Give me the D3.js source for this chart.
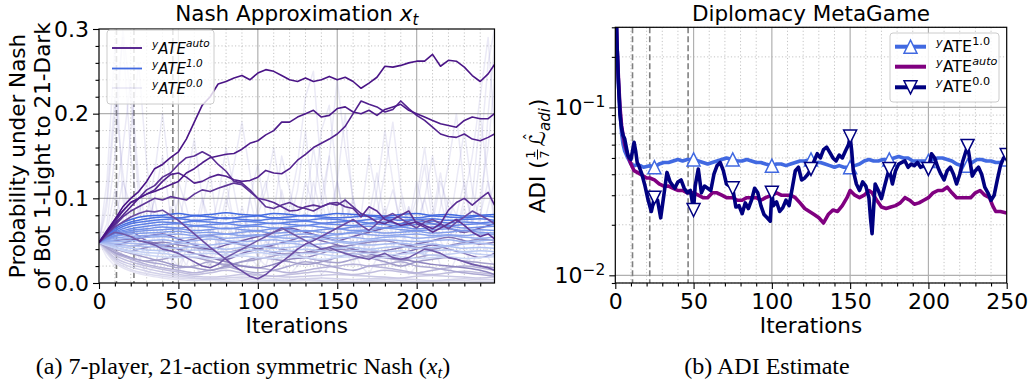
<!DOCTYPE html>
<html>
<head>
<meta charset="utf-8">
<script src="https://cdn.jsdelivr.net/npm/d3@7/dist/d3.min.js"></script>
<style>
html,body{margin:0;padding:0;background:#fff;}
svg text{font-family:"DejaVu Sans",sans-serif;}
svg text.serif{font-family:"Liberation Serif","Times New Roman",serif;}
</style>
</head>
<body>
<svg id="chart" width="1029" height="381"></svg>
<script>
// ================= DATA =================
const nashIterFine = [0,5,10,15,20,25,30,35,40,45,50,55,60,65,70,75,80,85,90,95,100,105,110,115,120,125,130,135,140,145,150,155,160,165,170,175,180,185,190,195,200,205,210,215,220,225,230,235,240,245,249];
const nashIterCoarse = [0,10,20,30,40,50,60,70,80,90,100,110,120,130,140,150,160,170,180,190,200,210,220,230,240,249];

const autoA = [.048,.06,.075,.09,.1,.108,.12,.135,.14,.148,.155,.17,.19,.21,.22,.235,.238,.242,.245,.24,.248,.252,.25,.245,.24,.238,.242,.238,.24,.244,.24,.243,.238,.23,.236,.243,.256,.255,.257,.26,.262,.262,.27,.256,.263,.262,.255,.245,.238,.247,.258];
const autoB = [.048,.062,.075,.085,.095,.1,.105,.108,.112,.116,.12,.13,.135,.142,.148,.15,.152,.153,.158,.165,.168,.175,.18,.19,.19,.196,.2,.204,.196,.198,.206,.208,.202,.2,.204,.198,.205,.208,.211,.204,.2,.196,.192,.188,.186,.184,.192,.196,.194,.194,.2];
const autoC = [.048,.06,.07,.08,.09,.1,.105,.11,.12,.128,.13,.125,.118,.12,.125,.128,.126,.122,.12,.121,.125,.133,.13,.129,.135,.145,.152,.16,.165,.17,.176,.185,.2,.215,.211,.208,.202,.205,.215,.206,.198,.192,.184,.176,.173,.172,.176,.17,.168,.172,.176];
const autoD = [.048,.06,.072,.085,.095,.1,.11,.115,.125,.13,.14,.148,.15,.155,.15,.14,.132,.12,.118,.11,.1,.098,.095,.09,.085,.086,.09,.092,.09,.094,.095,.09,.088,.078,.09,.085,.075,.072,.068,.07,.072,.068,.064,.07,.086,.095,.1,.092,.1,.107,.092];
const autoE = [.048,.058,.068,.078,.085,.09,.095,.1,.098,.102,.1,.098,.105,.11,.108,.112,.115,.118,.116,.108,.1,.09,.088,.092,.095,.09,.088,.085,.09,.094,.092,.098,.09,.082,.078,.072,.07,.075,.08,.085,.07,.066,.06,.065,.07,.075,.068,.06,.055,.058,.052];
const autoF = [.048,.058,.066,.072,.078,.082,.085,.084,.086,.08,.074,.066,.058,.05,.042,.035,.028,.02,.014,.008,.005,.01,.018,.025,.032,.04,.046,.05,.055,.06,.065,.07,.075,.068,.062,.07,.078,.082,.076,.07,.065,.072,.075,.07,.064,.072,.078,.085,.08,.075,.07];
const autoG = [.048,.055,.06,.058,.055,.05,.048,.045,.04,.038,.035,.03,.025,.02,.018,.022,.03,.035,.04,.045,.05,.055,.06,.065,.06,.055,.05,.045,.04,.042,.038,.035,.032,.03,.028,.032,.035,.03,.028,.03,.035,.04,.038,.035,.03,.028,.025,.022,.02,.018,.015];

const autoH = [.048,.055,.06,.05,.045,.04,.035,.03,.028,.035,.04,.045,.05,.055,.05,.045,.04,.035,.03,.035,.04,.045,.04,.035,.03,.035];
const autoI = [.048,.045,.05,.055,.058,.052,.045,.04,.045,.05,.055,.06,.065,.06,.055,.05,.055,.06,.065,.07,.075,.07,.065,.06,.065,.07];
const autoJ = [.048,.04,.035,.03,.025,.02,.018,.015,.02,.025,.03,.028,.025,.022,.025,.03,.035,.03,.025,.02,.025,.028,.03,.025,.02,.018];
const autoK = [.048,.042,.038,.042,.045,.04,.035,.03,.025,.02,.018,.022,.028,.03,.035,.04,.038,.035,.03,.028,.025,.022,.02,.018,.015,.01];
const autoL = [.048,.038,.03,.025,.022,.018,.02,.025,.02,.015,.012,.015,.02,.025,.022,.018,.015,.02,.022,.025,.02,.018,.015,.012,.01,.008];
const autoM = [.048,.035,.028,.022,.018,.015,.012,.015,.018,.02,.018,.015,.012,.015,.018,.02,.022,.02,.018,.015,.012,.015,.018,.02,.018,.015];
const autoN = [.048,.033,.025,.02,.016,.013,.01,.012,.015,.012,.01,.008,.01,.012,.014,.012,.01,.012,.015,.013,.011,.01,.012,.014,.012,.01];
const autoO = [.048,.03,.022,.017,.013,.01,.008,.007,.008,.01,.009,.008,.007,.008,.009,.01,.009,.008,.007,.006,.008,.009,.008,.007,.006,.007];
const autoP = [.048,.028,.019,.014,.01,.008,.006,.005,.006,.007,.006,.005,.004,.005,.006,.005,.004,.005,.006,.005,.004,.003,.004,.005,.004,.004];
const autoQ = [.048,.026,.016,.011,.008,.006,.005,.004,.004,.005,.004,.003,.003,.004,.003,.003,.002,.003,.004,.003,.002,.002,.003,.003,.002,.002];
const autoR = [.048,.024,.014,.009,.006,.004,.003,.003,.002,.003,.002,.002,.002,.003,.002,.002,.001,.002,.002,.001,.001,.002,.001,.001,.001,.001];
const autoS = [.048,.046,.044,.046,.048,.045,.042,.038,.036,.04,.044,.042,.038,.035,.038,.042,.045,.048,.05,.046,.042,.04,.044,.048,.052,.05];
const autoT = [.048,.05,.052,.048,.044,.048,.052,.056,.05,.045,.04,.036,.033,.036,.04,.044,.04,.036,.038,.042,.046,.05,.054,.05,.046,.048];
const autoU = [.048,.036,.03,.026,.028,.032,.03,.026,.022,.025,.028,.032,.035,.03,.026,.024,.028,.032,.03,.027,.03,.033,.03,.026,.024,.022];

const ate10_1 = [.048,.066,.075,.079,.08,.082,.08,.081,.083,.081,.08,.082,.081,.079,.08,.082,.081,.08,.079,.081,.082,.08,.081,.079,.08,.081];
const ate10_2 = [.048,.064,.072,.076,.078,.077,.079,.078,.076,.078,.079,.077,.078,.08,.078,.077,.078,.079,.077,.078,.077,.079,.078,.077,.079,.078];
const ate10_3 = [.048,.062,.07,.073,.075,.076,.074,.075,.077,.075,.074,.076,.075,.074,.076,.075,.073,.075,.076,.074,.075,.076,.074,.075,.076,.074];
const ate10_4 = [.048,.06,.067,.07,.072,.071,.073,.072,.071,.073,.072,.07,.072,.073,.071,.072,.073,.071,.072,.07,.072,.073,.071,.072,.071,.073];
const ate10_5 = [.048,.059,.064,.067,.069,.07,.068,.069,.07,.068,.069,.071,.069,.068,.07,.069,.068,.07,.069,.067,.069,.07,.068,.069,.07,.069];
const ate10_6 = [.048,.058,.062,.064,.066,.065,.067,.066,.064,.066,.067,.065,.066,.068,.066,.064,.066,.067,.065,.066,.064,.066,.067,.065,.066,.067];
const ate10_7 = [.048,.056,.06,.062,.063,.064,.062,.063,.065,.063,.062,.064,.063,.061,.063,.064,.062,.063,.065,.063,.062,.063,.064,.062,.063,.062];
const ate10_8 = [.048,.055,.058,.059,.06,.061,.059,.06,.058,.06,.061,.059,.06,.062,.06,.058,.06,.061,.059,.06,.061,.059,.06,.062,.06,.059];
const ate10_9 = [.048,.053,.055,.056,.057,.058,.056,.057,.058,.056,.057,.055,.057,.058,.056,.057,.059,.057,.056,.057,.058,.056,.057,.056,.058,.057];
const ate10_10 = [.048,.051,.053,.054,.055,.053,.054,.055,.053,.054,.056,.054,.053,.054,.055,.053,.054,.052,.054,.055,.053,.054,.056,.054,.053,.054];
const ate10_11 = [.048,.049,.05,.05,.051,.049,.05,.052,.05,.049,.05,.051,.049,.05,.052,.05,.048,.05,.051,.05,.049,.05,.051,.049,.05,.051];
const ate10_12 = [.048,.047,.047,.046,.045,.047,.046,.045,.047,.046,.044,.046,.047,.045,.046,.048,.046,.045,.046,.047,.045,.046,.044,.046,.047,.045];
const ate10_13 = [.048,.045,.044,.043,.042,.041,.043,.042,.04,.042,.043,.041,.042,.044,.042,.041,.042,.04,.042,.043,.041,.042,.043,.041,.042,.041];
const ate10_14 = [.048,.044,.041,.039,.038,.037,.039,.038,.036,.038,.039,.037,.038,.04,.038,.036,.038,.039,.037,.038,.036,.038,.039,.037,.038,.037];
const ate10_15 = [.048,.042,.038,.036,.035,.033,.034,.035,.033,.034,.036,.034,.033,.035,.034,.032,.034,.035,.033,.034,.035,.033,.034,.036,.034,.033];
const ate10_16 = [.048,.041,.036,.033,.031,.03,.031,.029,.03,.032,.03,.029,.031,.03,.028,.03,.031,.029,.03,.031,.029,.03,.031,.029,.03,.031];

const ate00_1 = [.048,.09,.2,.29,.15,.08,.12,.05,.03,.06,.1,.07,.04,.09,.13,.06,.03,.08,.05,.1,.14,.08,.05,.11,.07,.04,.09,.16,.1,.06,.12,.2,.09,.05,.08,.13,.07,.04,.1,.06,.09,.14,.07,.05,.1,.08,.12,.07,.15,.26,.3];
const ate00_2 = [.048,.12,.28,.1,.05,.02,.06,.1,.05,.03,.01,.04,.08,.05,.02,.06,.1,.07,.03,.05,.09,.12,.06,.03,.07,.11,.18,.09,.04,.02,.06,.1,.05,.08,.15,.1,.05,.02,.04,.09,.06,.03,.08,.13,.07,.04,.06,.1,.2,.12,.08];
const ate00_3 = [.048,.07,.15,.3,.22,.1,.04,.02,.05,.08,.12,.09,.05,.03,.06,.1,.16,.11,.06,.04,.08,.05,.02,.04,.09,.14,.22,.25,.13,.08,.05,.1,.07,.03,.06,.11,.18,.12,.06,.09,.05,.03,.07,.12,.09,.06,.1,.15,.22,.29,.18];
const ate00_4 = [.048,.05,.09,.16,.24,.12,.06,.1,.15,.08,.04,.02,.05,.03,.07,.05,.02,.04,.08,.06,.03,.02,.05,.08,.04,.02,.03,.07,.1,.15,.08,.04,.02,.05,.03,.06,.09,.05,.02,.04,.07,.1,.06,.03,.05,.08,.04,.02,.05,.09,.12];
const ate00_5 = [.048,.03,.02,.04,.06,.03,.01,.02,.05,.03,.02,.04,.02,.01,.03,.05,.03,.02,.01,.03,.02,.04,.06,.03,.01,.02,.04,.03,.01,.02,.05,.08,.04,.02,.01,.03,.02,.04,.03,.01,.02,.03,.05,.02,.01,.03,.02,.04,.06,.03,.02];
const ate00_6 = [.048,.06,.11,.07,.18,.26,.14,.07,.04,.09,.06,.12,.17,.1,.05,.08,.12,.07,.04,.1,.06,.03,.08,.15,.11,.07,.12,.09,.18,.21,.12,.07,.1,.06,.04,.08,.13,.19,.11,.07,.12,.08,.05,.09,.14,.2,.11,.07,.1,.16,.24];
const ate00_7 = [.048,.04,.07,.12,.09,.05,.03,.06,.04,.02,.05,.08,.06,.03,.02,.04,.07,.05,.09,.06,.03,.05,.04,.07,.1,.06,.04,.02,.05,.08,.12,.07,.04,.06,.03,.05,.08,.06,.04,.07,.1,.16,.09,.05,.03,.06,.09,.05,.08,.12,.07];
const ate00_8 = [.048,.1,.22,.13,.06,.04,.08,.13,.2,.12,.07,.04,.06,.1,.07,.04,.09,.14,.19,.13,.08,.11,.16,.1,.06,.04,.07,.12,.08,.15,.24,.16,.1,.06,.09,.05,.08,.11,.07,.04,.06,.1,.15,.1,.06,.12,.18,.11,.07,.2,.28];

const nashXTicks = [0,50,100,150,200];
const nashYTicks = [0,0.1,0.2,0.3];
const nashDashed = [11,22,46.5];

const adi10X = [0,1,2,3,4,5,6,8,10,12,14,16,18,20,22,25,28,31,34,37,40,43,46,50,53,56,59,62,65,68,71,75,78,81,84,87,90,93,96,100,103,106,109,112,115,118,121,125,128,131,134,137,140,143,146,150,153,156,159,162,165,168,171,175,178,181,184,187,190,193,196,200,203,206,209,212,215,218,221,225,228,231,234,237,240,243,246,250];
const adi10Y = [.6,.25,.14,.095,.07,.06,.055,.05,.046,.045,.0455,.045,.044,.0445,.045,.044,.046,.047,.047,.048,.049,.048,.049,.049,.048,.047,.046,.047,.048,.049,.05,.049,.048,.048,.049,.048,.047,.047,.046,.045,.046,.046,.045,.046,.047,.048,.048,.049,.047,.047,.046,.045,.044,.045,.044,.044,.045,.046,.048,.049,.048,.048,.049,.049,.05,.051,.05,.05,.048,.048,.048,.048,.049,.05,.05,.049,.048,.046,.045,.045,.047,.049,.049,.048,.048,.047,.047,.049];
const adiAutoX = [0,1,2,3,4,5,6,8,10,12,14,16,18,20,22,25,28,31,34,37,40,43,46,50,53,56,59,62,65,68,71,75,78,81,84,87,90,93,96,100,103,106,109,112,115,118,121,124,127,130,133,136,139,142,145,148,150,153,156,159,162,164,167,170,173,176,179,182,185,188,191,194,197,200,203,206,209,212,215,218,221,224,227,230,233,236,239,241,243,246,250];
const adiAutoY = [.6,.25,.15,.1,.078,.068,.06,.052,.046,.042,.041,.04,.039,.038,.038,.037,.035,.034,.034,.033,.032,.032,.031,.031,.03,.029,.029,.031,.031,.03,.029,.029,.028,.028,.029,.029,.029,.028,.029,.03,.031,.03,.03,.03,.029,.027,.025,.024,.023,.022,.0205,.023,.0245,.024,.026,.029,.032,.03,.029,.03,.032,.031,.028,.0255,.025,.0255,.026,.027,.029,.028,.0265,.027,.028,.029,.031,.032,.032,.0335,.031,.029,.029,.029,.029,.031,.032,.03,.029,.026,.024,.024,.0235];
const adi00X = [0,1,2,3,4,5,6,7,8,9,10,11,12,13,14,15,17,19,21,23,25,27,29,31,33,35,38,40,42,44,46,48,50,51,53,55,57,59,61,63,65,67,69,71,73,75,77,79,81,83,85,87,89,91,93,95,97,99,100,101,103,105,107,109,111,113,115,117,119,121,123,125,127,129,131,133,135,137,139,141,143,145,147,149,150,151,152,154,156,158,160,162,163,164,165,166,168,170,172,174,175,177,179,181,183,185,187,189,191,193,195,197,199,200,202,204,206,208,210,212,214,216,218,220,222,224,225,226,228,230,232,234,236,238,240,242,244,246,248,250];
const adi00Y = [.6,.25,.14,.09,.075,.068,.065,.058,.052,.05,.049,.055,.062,.055,.047,.045,.04,.034,.028,.024,.029,.028,.022,.03,.041,.036,.033,.036,.037,.033,.031,.032,.0245,.034,.043,.031,.034,.033,.032,.04,.045,.047,.042,.035,.034,.033,.0255,.026,.0233,.027,.025,.028,.033,.031,.026,.023,.022,.021,.031,.026,.0274,.024,.0253,.028,.026,.033,.042,.044,.037,.038,.04,.043,.048,.053,.05,.056,.058,.054,.05,.048,.052,.05,.055,.06,.067,.055,.042,.035,.032,.036,.034,.029,.022,.0177,.025,.035,.032,.0286,.034,.04,.043,.035,.042,.046,.047,.048,.044,.046,.045,.047,.044,.045,.044,.043,.053,.05,.044,.04,.037,.042,.044,.04,.035,.04,.048,.055,.059,.052,.039,.042,.044,.04,.0335,.031,.028,.03,.037,.045,.05,.052];

const adiXTicks = [0,50,100,150,200,250];
const adiYTicks = [0.01,0.1];
const adiYTickExp = ["\u22122","\u22121"];
const adiDashed = [11,22,46.5];
const adiMarkEvery = 25;

// ================= DRAWING =================
const svg = d3.select("#chart");
svg.append("rect").attr("width",1029).attr("height",381).attr("fill","#fff");
const defs = svg.append("defs");

const TICKFS = 22, LABFS = 21.5;
const MAJ = "#b0b0b0", MIN = "#c4c4c4";

function panelBase(P, x, y, xMaj, xMin, yMaj, yMin, id){
  defs.append("clipPath").attr("id",id).append("rect")
    .attr("x",P.x0).attr("y",P.y0).attr("width",P.x1-P.x0).attr("height",P.y1-P.y0);
  const g = svg.append("g");
  g.selectAll(".mgx").data(xMin).join("line")
    .attr("x1",d=>x(d)).attr("x2",d=>x(d)).attr("y1",P.y0).attr("y2",P.y1)
    .attr("stroke",MIN).attr("stroke-width",1).attr("stroke-dasharray","1.2,2.2");
  g.selectAll(".mgy").data(yMin).join("line")
    .attr("y1",d=>y(d)).attr("y2",d=>y(d)).attr("x1",P.x0).attr("x2",P.x1)
    .attr("stroke",MIN).attr("stroke-width",1).attr("stroke-dasharray","1.2,2.2");
  g.selectAll(".Mgx").data(xMaj).join("line")
    .attr("x1",d=>x(d)).attr("x2",d=>x(d)).attr("y1",P.y0).attr("y2",P.y1)
    .attr("stroke",MAJ).attr("stroke-width",1.2);
  g.selectAll(".Mgy").data(yMaj).join("line")
    .attr("y1",d=>y(d)).attr("y2",d=>y(d)).attr("x1",P.x0).attr("x2",P.x1)
    .attr("stroke",MAJ).attr("stroke-width",1.2);
  return g;
}

function dashedLines(P, x, vals, id){
  svg.append("g").attr("clip-path",`url(#${id})`).selectAll("line").data(vals).join("line")
    .attr("x1",d=>x(d)).attr("x2",d=>x(d)).attr("y1",P.y0).attr("y2",P.y1)
    .attr("stroke","#808080").attr("stroke-width",1.6).attr("stroke-dasharray","6,3");
}

function axes(P, x, y, xMaj, xMin, yMaj, yMin, xFmt, yFmt){
  const gx = svg.append("g").attr("transform",`translate(0,${P.y1})`)
    .call(d3.axisBottom(x).tickValues(xMaj).tickSize(6).tickPadding(4).tickFormat(xFmt));
  const gx2 = svg.append("g").attr("transform",`translate(0,${P.y1})`)
    .call(d3.axisBottom(x).tickValues(xMin).tickSize(3.5).tickFormat(""));
  const gy = svg.append("g").attr("transform",`translate(${P.x0},0)`)
    .call(d3.axisLeft(y).tickValues(yMaj).tickSize(6).tickPadding(4).tickFormat(yFmt));
  const gy2 = svg.append("g").attr("transform",`translate(${P.x0},0)`)
    .call(d3.axisLeft(y).tickValues(yMin).tickSize(3.5).tickFormat(""));
  [gx,gx2,gy,gy2].forEach(g=>{
    g.attr("font-size",TICKFS);
    g.select(".domain").remove();
    g.selectAll(".tick line").attr("stroke","#000").attr("stroke-width",1.1);
    g.selectAll(".tick text").attr("fill","#000");
  });
  svg.append("rect").attr("x",P.x0).attr("y",P.y0).attr("width",P.x1-P.x0).attr("height",P.y1-P.y0)
    .attr("fill","none").attr("stroke","#000").attr("stroke-width",1.2);
  return gy;
}

// ---------- LEFT PANEL ----------
const L = {x0:99, x1:494.5, y0:29, y1:283};
const xL = d3.scaleLinear().domain([0,249]).range([L.x0,L.x1]);
const yL = d3.scaleLinear().domain([0,0.3]).range([L.y1,L.y0]);
const xMinL = xL.ticks(25).filter(d=>d%50!==0);
const yMinL = yL.ticks(15).filter(d=>Math.abs(d*10-Math.round(d*10))>1e-6);
panelBase(L, xL, yL, [50,100,150,200], xMinL, [0.1,0.2], yMinL, "clipL");
dashedLines(L, xL, nashDashed, "clipL");

const plotL = svg.append("g").attr("clip-path","url(#clipL)");
function traceL(xs, ys, color, width, opacity, curve){
  const ln = d3.line().x(d=>xL(d[0])).y(d=>yL(d[1])).curve(curve||d3.curveLinear);
  plotL.append("path").attr("d", ln(d3.zip(xs,ys)))
    .attr("fill","none").attr("stroke",color).attr("stroke-width",width)
    .attr("stroke-opacity",opacity).attr("stroke-linejoin","round");
}
[ate00_1,ate00_2,ate00_3,ate00_4,ate00_5,ate00_6,ate00_7,ate00_8].forEach(s=>
  traceL(nashIterFine, s, "#7b70c0", 1.5, 0.15));
const autoCoarse = [
  [autoR,"#e4e3f2"],[autoQ,"#dcdbee"],[autoP,"#d3d2e9"],[autoO,"#cac8e4"],[autoN,"#c1bede"],
  [autoM,"#b7b3d9"],[autoL,"#aca8d2"],[autoU,"#a6a1cd"],[autoJ,"#a09bc9"],[autoS,"#9088c0"],
  [autoK,"#8d84be"],[autoH,"#7e6fb4"],[autoT,"#7f72b5"],[autoI,"#6f5aa9"]];
autoCoarse.forEach(([s,c])=>traceL(nashIterCoarse, s, c, 1.5, 1, d3.curveMonotoneX));
const ate10 = [ate10_1,ate10_2,ate10_3,ate10_4,ate10_5,ate10_6,ate10_7,ate10_8,ate10_9,ate10_10,ate10_11,ate10_12,ate10_13,ate10_14,ate10_15,ate10_16];
const blueCol = d3.interpolateRgb("#4169e1","#cdd8f6");
ate10.slice().reverse().forEach((s,i)=>{
  const k = ate10.length-1-i;
  traceL(nashIterCoarse, s, blueCol(k/(ate10.length-1)), 1.5, 1, d3.curveMonotoneX);
});
const autoFine = [[autoG,"#7059a9"],[autoF,"#6a4aa3"],[autoE,"#5e3597"],[autoD,"#5a2e94"],[autoC,"#52218e"],[autoB,"#4d1a8a"],[autoA,"#4a1486"]];
autoFine.forEach(([s,c])=>traceL(nashIterFine, s, c, 1.6, 1));

axes(L, xL, yL, nashXTicks, xMinL, nashYTicks, yMinL, d3.format("d"), d3.format(".1f"));

const tL = svg.append("text").attr("x",(L.x0+L.x1)/2).attr("y",21).attr("text-anchor","middle").attr("font-size",LABFS);
tL.append("tspan").text("Nash Approximation ");
tL.append("tspan").attr("font-style","italic").text("x");
tL.append("tspan").attr("font-style","italic").attr("font-size",15).attr("dy",4).text("t");
svg.append("text").attr("x",(L.x0+L.x1)/2).attr("y",333).attr("text-anchor","middle").attr("font-size",LABFS).text("Iterations");
svg.append("text").attr("transform",`translate(25,156) rotate(-90)`).attr("text-anchor","middle").attr("font-size",LABFS).text("Probability under Nash");
svg.append("text").attr("transform",`translate(50,156) rotate(-90)`).attr("text-anchor","middle").attr("font-size",LABFS).text("of Bot 1-Light to 21-Dark");

function legendText(x, y, sup, mainItalic, supItalic, fs){
  const t = svg.append("text").attr("x",x).attr("y",y).attr("font-size",fs);
  t.append("tspan").attr("font-size",fs*0.7).attr("font-style","italic").attr("dy",-6).text("y");
  t.append("tspan").attr("font-style",mainItalic?"italic":"normal").attr("dy",6).text("ATE");
  t.append("tspan").attr("font-size",fs*0.7).attr("font-style",supItalic?"italic":"normal").attr("dy",-7).text(sup);
}
svg.append("rect").attr("x",107).attr("y",30).attr("width",107).attr("height",74).attr("rx",3)
  .attr("fill","#fff").attr("fill-opacity",0.8).attr("stroke","#cccccc").attr("stroke-width",1);
const legL = [["auto","#4a1486",1],["1.0","#4169e1",1],["0.0","#7b70c0",0.15]];
legL.forEach(([s,c,o],i)=>{
  const yy = [48,68.5,88][i];
  svg.append("line").attr("x1",112).attr("x2",142).attr("y1",yy).attr("y2",yy)
    .attr("stroke",c).attr("stroke-opacity",o).attr("stroke-width",1.8);
  legendText(152, yy+5.5, s, true, true, 15);
});

// ---------- RIGHT PANEL ----------
const R = {x0:615.3, x1:1006.7, y0:27.3, y1:283};
const xR = d3.scaleLinear().domain([0,250]).range([R.x0,R.x1]);
const yR = d3.scaleLog().domain([0.009,0.3]).range([R.y1,R.y0]);
const xMinR = xR.ticks(25).filter(d=>d%50!==0);
const yMinR = yR.ticks().filter(d=>!adiYTicks.some(t=>Math.abs(t-d)<1e-9));
panelBase(R, xR, yR, [50,100,150,200], xMinR, adiYTicks, yMinR, "clipR");
dashedLines(R, xR, adiDashed, "clipR");

const plotR = svg.append("g").attr("clip-path","url(#clipR)");
function triPath(up, s){
  return up ? `M0,${-s}L${s},${s}L${-s},${s}Z` : `M0,${s}L${s},${-s}L${-s},${-s}Z`;
}
function traceR(xs, ys, color, marker){
  const pts = d3.zip(xs,ys);
  const ln = d3.line().x(d=>xR(d[0])).y(d=>yR(d[1]));
  plotR.append("path").attr("d",ln(pts)).attr("fill","none").attr("stroke",color)
    .attr("stroke-width",3.6).attr("stroke-linejoin","round");
  if(marker!==null){
    plotR.selectAll(null).data(pts.filter(d=>d[0]%adiMarkEvery===0)).join("path")
      .attr("transform",d=>`translate(${xR(d[0])},${yR(d[1])})`)
      .attr("d",triPath(marker,6.5)).attr("fill","#fff").attr("stroke",color).attr("stroke-width",1.5);
  }
}
traceR(adi10X, adi10Y, "#4169e1", true);
traceR(adiAutoX, adiAutoY, "#800080", null);
traceR(adi00X, adi00Y, "#000080", false);

axes(R, xR, yR, adiXTicks, xMinR, adiYTicks, yMinR, d3.format("d"), ()=>"");
adiYTicks.forEach((v,i)=>{
  const t = svg.append("text").attr("x",R.x0-10).attr("y",yR(v)+8).attr("text-anchor","end").attr("font-size",TICKFS);
  t.append("tspan").text("10");
  t.append("tspan").attr("font-size",15.5).attr("dy",-8).text(adiYTickExp[i]);
});

svg.append("text").attr("x",(R.x0+R.x1)/2).attr("y",21).attr("text-anchor","middle").attr("font-size",LABFS).text("Diplomacy MetaGame");
svg.append("text").attr("x",(R.x0+R.x1)/2).attr("y",333).attr("text-anchor","middle").attr("font-size",LABFS).text("Iterations");

const yl = svg.append("g").attr("transform","translate(545,156) rotate(-90)");
const yli = yl.append("g");
let cx = 0;
const p1 = yli.append("text").attr("x",0).attr("y",0).attr("font-size",LABFS).text("ADI (");
cx += p1.node().getComputedTextLength() + 1;
yli.append("text").attr("x",cx+5).attr("y",-10).attr("font-size",12.5).attr("text-anchor","middle").text("1");
yli.append("line").attr("x1",cx).attr("x2",cx+10).attr("y1",-7.5).attr("y2",-7.5).attr("stroke","#000").attr("stroke-width",1);
yli.append("text").attr("x",cx+5).attr("y",4).attr("font-size",12.5).attr("text-anchor","middle").text("7");
cx += 13;
const pL = yli.append("text").attr("x",cx).attr("y",0).attr("font-size",LABFS).attr("font-style","italic").text("\u2112");
const wL = pL.node().getComputedTextLength();
yli.append("text").attr("x",cx+wL/2+2).attr("y",-9).attr("font-size",16).attr("text-anchor","middle").text("\u02C6");
cx += wL;
const pS = yli.append("text").attr("x",cx).attr("y",5).attr("font-size",15).attr("font-style","italic").text("adi");
cx += pS.node().getComputedTextLength() + 1;
const pE = yli.append("text").attr("x",cx).attr("y",0).attr("font-size",LABFS).text(")");
cx += pE.node().getComputedTextLength();
yli.attr("transform",`translate(${-cx/2},0)`);

svg.append("rect").attr("x",890).attr("y",33).attr("width",109).attr("height",69).attr("rx",3)
  .attr("fill","#fff").attr("fill-opacity",0.8).attr("stroke","#cccccc").attr("stroke-width",1);
const legR = [["1.0","#4169e1",true,false],["auto","#800080",null,true],["0.0","#000080",false,false]];
legR.forEach(([s,c,m,it],i)=>{
  const yy = [46.7,66.7,87.3][i];
  svg.append("line").attr("x1",895).attr("x2",926).attr("y1",yy).attr("y2",yy).attr("stroke",c).attr("stroke-width",4);
  if(m!==null){
    svg.append("path").attr("transform",`translate(910.5,${yy})`).attr("d",triPath(m,6.5))
      .attr("fill","#fff").attr("stroke",c).attr("stroke-width",1.5);
  }
  legendText(936, yy+5, s, false, it, 16);
});

// ---------- CAPTIONS ----------
const capA = svg.append("text").attr("class","serif").attr("x",243).attr("y",374).attr("text-anchor","middle")
  .attr("font-size",24);
capA.append("tspan").text("(a) 7-player, 21-action symmetric Nash (");
capA.append("tspan").attr("font-style","italic").text("x");
capA.append("tspan").attr("font-style","italic").attr("font-size",17).attr("dy",4).text("t");
capA.append("tspan").attr("dy",-4).text(")");
svg.append("text").attr("class","serif").attr("x",767).attr("y",374).attr("text-anchor","middle")
  .attr("font-size",24).text("(b) ADI Estimate");
</script>
</body>
</html>
